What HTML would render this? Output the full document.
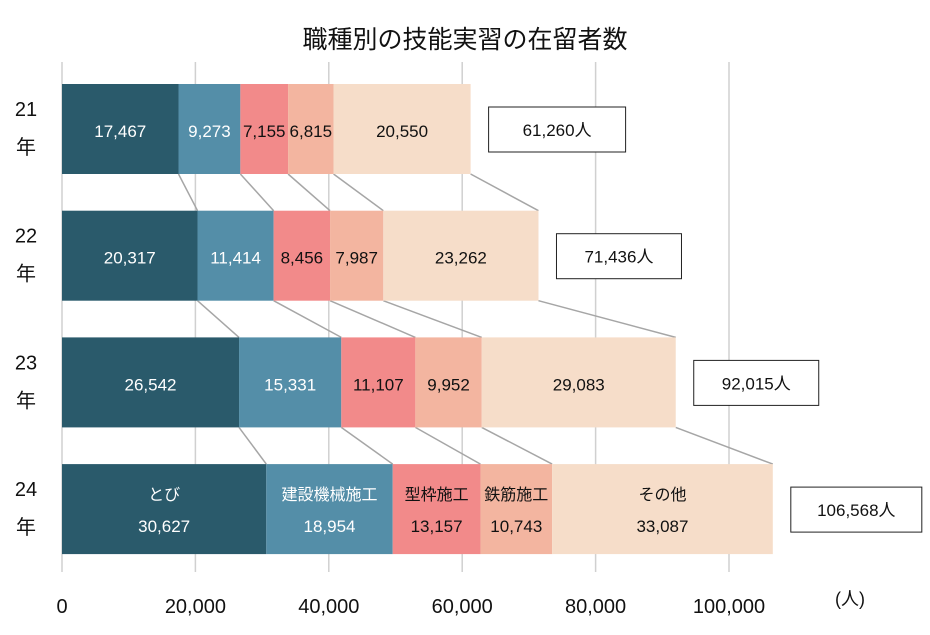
<!DOCTYPE html>
<html><head><meta charset="utf-8">
<style>
body{margin:0;background:#fff;font-family:"Liberation Sans","Noto Sans CJK JP",sans-serif;}
svg text{font-family:"Liberation Sans","Noto Sans CJK JP",sans-serif;}
</style></head>
<body>
<svg id="chart" width="930" height="630" xmlns="http://www.w3.org/2000/svg">
<text x="465" y="48" text-anchor="middle" font-size="25" fill="#111">職種別の技能実習の在留者数</text>
<g id="grid"></g><g id="conn"></g><g id="bars"></g><g id="axis"></g>
</svg>
<script>
const years=["21","22","23","24"];
const categories=["とび","建設機械施工","型枠施工","鉄筋施工","その他"];
const s0=[17467,20317,26542,30627];
const s1=[9273,11414,15331,18954];
const s2=[7155,8456,11107,13157];
const s3=[6815,7987,9952,10743];
const s4=[20550,23262,29083,33087];
const totals=["61,260人","71,436人","92,015人","106,568人"];
const ticks=[0,20000,40000,60000,80000,100000];
const series=[s0,s1,s2,s3,s4];
const colors=["#2a5a6b","#548ea8","#f28a8a","#f3b5a0","#f6ddc9"];
const textCol=["#fff","#fff","#111","#111","#111"];
const NS="http://www.w3.org/2000/svg";
const X=v=>62+v*667/100000;
const rowY=i=>84+i*126.7, BH=90;
function mk(tag,attrs,parent,txt){const e=document.createElementNS(NS,tag);for(const k in attrs)e.setAttribute(k,attrs[k]);if(txt!==undefined)e.textContent=txt;parent.appendChild(e);return e;}
const grid=document.getElementById('grid'),bars=document.getElementById('bars'),conn=document.getElementById('conn'),axis=document.getElementById('axis');
ticks.forEach(t=>{
 const l=mk('line',{x1:X(t),x2:X(t),y1:62,y2:572,stroke:'#d0d0d0','stroke-width':1.5},grid);
 
 
 const tx=mk('text',{x:X(t),y:613,'text-anchor':'middle','font-size':20,fill:'#111'},axis,t.toLocaleString('en-US'));
 
 
});
const u=mk('text',{x:850,y:605,'text-anchor':'middle','font-size':18,fill:'#111'},axis,'(人)');


const ends=[];
years.forEach((yr,i)=>{
 const y=rowY(i);let acc=0;ends.push([]);
 series.forEach((s,j)=>{
  const x0=X(acc);acc+=s[i];const x1=X(acc);ends[i].push(acc);
  const r=mk('rect',{x:x0,y:y,width:x1-x0,height:BH,fill:colors[j]},bars);
  
  
  const cx=(x0+x1)/2;
  if(i===3){
   const c=mk('text',{x:cx,y:y+36,'text-anchor':'middle','font-size':16,fill:textCol[j]},bars,categories[j]);
   
   
  }
  const v=mk('text',{x:cx,y:i===3?y+68:y+53,'text-anchor':'middle','font-size':17,fill:textCol[j]},bars,s[i].toLocaleString('en-US'));
  
  
 });
 const a=mk('text',{x:26,y:y+32,'text-anchor':'middle','font-size':20,fill:'#111'},axis,yr);
 
 
 const b=mk('text',{x:26,y:y+70,'text-anchor':'middle','font-size':20,fill:'#111'},axis,'年');
 
 
 const bx=X(acc)+18, bw=i===3?131:(i===0?137:125);
 const br=mk('rect',{x:bx,y:y+23,width:bw,height:45,fill:'#fff',stroke:'#222','stroke-width':1},axis);
 
 
 const bt=mk('text',{x:bx+bw/2,y:y+52,'text-anchor':'middle','font-size':17,fill:'#111'},axis,totals[i]);
 
 
});
for(let i=0;i<years.length-1;i++){
 ends[i].forEach((v,j)=>{
  const l=mk('line',{x1:X(v),y1:rowY(i)+BH,x2:X(ends[i+1][j]),y2:rowY(i+1),stroke:'#a6a6a6','stroke-width':1.5},conn);
  
  
 });
}
</script>
</body></html>
